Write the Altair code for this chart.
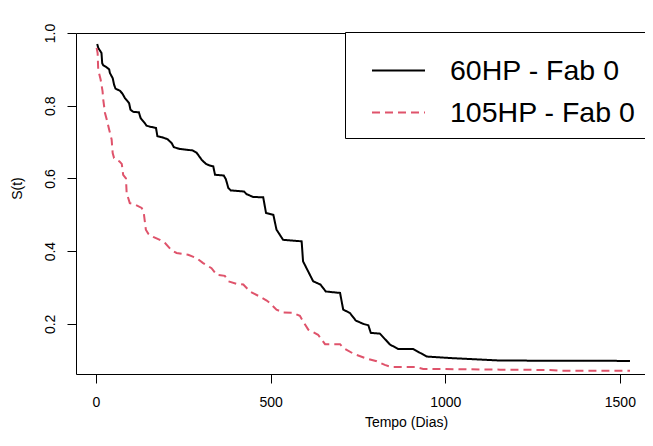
import altair as alt
import pandas as pd

groups = ["60HP - Fab 0", "105HP - Fab 0"]

t_60 = [3.7, 6.6, 16, 18, 21, 30, 38, 40, 48, 52, 56, 69, 76, 83, 95, 99, 107, 123, 128, 140,
        145, 156, 172, 176, 190, 205, 217, 223, 240, 277, 288, 303, 315, 324, 336, 341, 366, 372,
        379, 386, 424, 431, 450, 479, 487, 508, 517, 536, 589, 593, 622, 643, 658, 699, 708, 727,
        744, 765, 780, 787, 813, 842, 865, 908, 947, 1013, 1157, 1529]
s_60 = [0.970, 0.959, 0.945, 0.917, 0.911, 0.906, 0.900, 0.890, 0.876, 0.858, 0.847, 0.841, 0.833,
        0.821, 0.807, 0.789, 0.783, 0.782, 0.766, 0.752, 0.745, 0.742, 0.739, 0.716, 0.713, 0.708,
        0.697, 0.686, 0.681, 0.677, 0.671, 0.651, 0.640, 0.636, 0.633, 0.610, 0.608, 0.598,
        0.574, 0.567, 0.564, 0.557, 0.549, 0.548, 0.505, 0.500, 0.459, 0.431, 0.427, 0.372, 0.317,
        0.308, 0.289, 0.285, 0.239, 0.230, 0.209, 0.200, 0.196, 0.175, 0.173, 0.143, 0.131, 0.131,
        0.110, 0.106, 0.099, 0.098]

t_105 = [2, 4.9, 6.6, 13.5, 19, 21, 26, 31, 38, 45, 48, 52, 67, 74, 78, 86, 88, 97, 112, 131,
         137, 143, 150, 164, 183, 198, 217, 231, 264, 288, 307, 331, 346, 369, 379, 403, 422, 441,
         465, 489, 498, 517, 536, 565, 584, 593, 608, 636, 656, 699, 708, 737, 770, 804, 827, 847,
         918, 937, 1157, 1300, 1328, 1529]
s_105 = [0.959, 0.945, 0.899, 0.872, 0.840, 0.817, 0.780, 0.762, 0.734, 0.707, 0.670, 0.656, 0.647,
         0.640, 0.610, 0.600, 0.560, 0.532, 0.528, 0.519, 0.505, 0.459, 0.448, 0.439, 0.431, 0.422,
         0.402, 0.395, 0.390, 0.381, 0.367, 0.353, 0.335, 0.332, 0.317, 0.310, 0.308, 0.289, 0.277,
         0.264, 0.257, 0.239, 0.231, 0.230, 0.222, 0.207, 0.184, 0.170, 0.144, 0.144, 0.134, 0.118,
         0.106, 0.097, 0.087, 0.081, 0.081, 0.076, 0.074, 0.073, 0.071, 0.071]

x_ticks = [0, 500, 1000, 1500]
y_ticks = [0.2, 0.4, 0.6, 0.8, 1.0]

df = pd.concat([
    pd.DataFrame({"t": t_60, "s": s_60, "grupo": groups[0], "idx": range(len(t_60))}),
    pd.DataFrame({"t": t_105, "s": s_105, "grupo": groups[1], "idx": range(len(t_105))}),
])

FONT = "Liberation Sans"

legend = alt.Legend(
    title=None, orient="none", legendX=269, legendY=-1, padding=11,
    labelFont=FONT, labelFontSize=28.5, labelColor="black", labelLimit=400,
    labelOffset=24, rowPadding=-17, symbolOffset=15, symbolType="stroke", symbolSize=2809,
    symbolStrokeWidth=2, strokeColor="black", fillColor="white", cornerRadius=0,
)

chart = alt.Chart(df).mark_line(strokeWidth=2).encode(
    x=alt.X("t:Q", scale=alt.Scale(domain=[-57, 1572], nice=False, zero=False),
            axis=alt.Axis(values=x_ticks, format="d", title="Tempo (Dias)", grid=False,
                          domain=False, tickSize=9, tickColor="black", labelPadding=12,
                          labelFontSize=14,
                          labelFont=FONT, labelColor="black", titleFont=FONT, titleFontSize=14,
                          titleFontWeight="normal", titleColor="black", titleY=48,
                          titleX=330, titleBaseline="middle", titleAlign="center")),
    y=alt.Y("s:Q", scale=alt.Scale(domain=[0.062, 1.0], nice=False, zero=False),
            axis=alt.Axis(values=y_ticks, format=".1f", title="S(t)", grid=False, domain=False,
                          tickSize=9, tickColor="black", labelAngle=270, labelAlign="center",
                          labelBaseline="bottom", labelPadding=10, labelFontSize=14,
                          labelFont=FONT, labelColor="black", titleFont=FONT, titleFontSize=14,
                          titleFontWeight="normal", titleColor="black", titleAngle=270,
                          titleX=-59, titleY=155, titleAlign="center", titleBaseline="middle")),
    color=alt.Color("grupo:N", scale=alt.Scale(domain=groups, range=["#000000", "#DF536B"]),
                    legend=legend),
    strokeDash=alt.StrokeDash("grupo:N", scale=alt.Scale(domain=groups, range=[[1, 0], [8, 5]]),
                              legend=legend),
    order="idx:Q",
).properties(
    width=569, height=341,
    autosize=alt.AutoSizeParams(type="none"),
    padding={"left": 68, "top": 25, "right": 0, "bottom": 58},
).configure_view(stroke="black", strokeWidth=1)

chart.save("out.html", embed_options={"renderer": "svg", "actions": False})
